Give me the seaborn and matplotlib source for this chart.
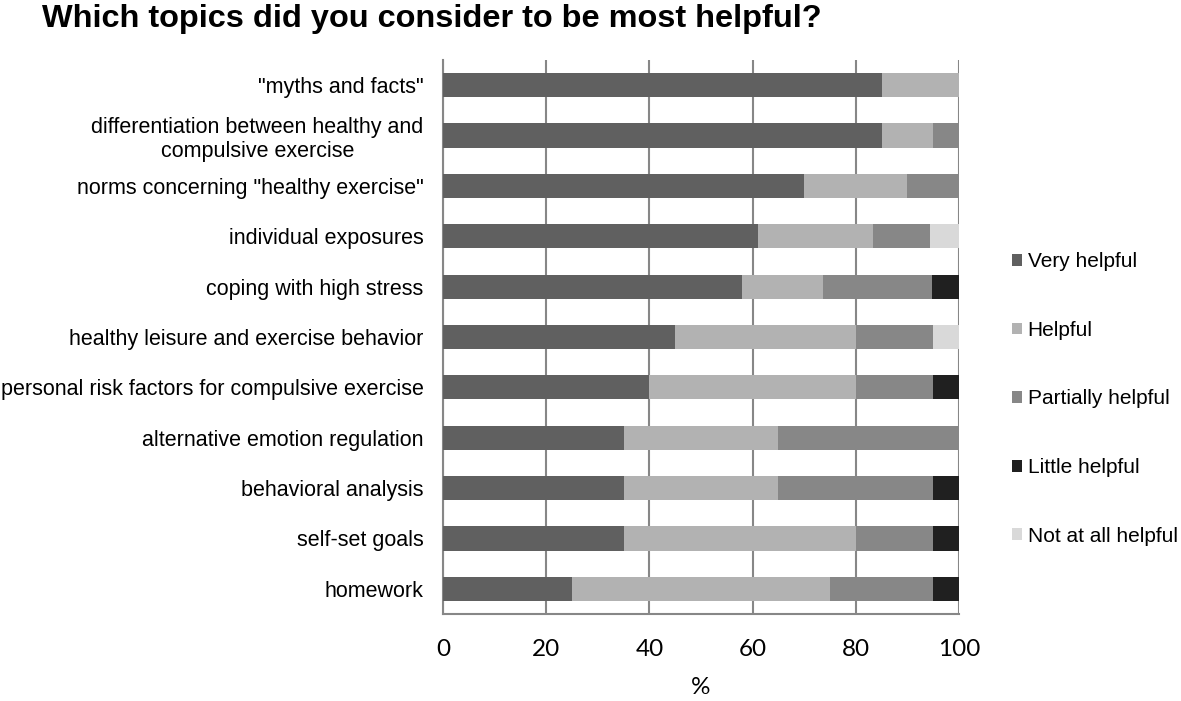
import matplotlib
matplotlib.use("Agg")
import matplotlib.pyplot as plt
import seaborn as sns
import numpy as np
import pandas as pd
from matplotlib.patches import Patch

topics = [
    '"myths and facts"',
    "differentiation between healthy and\ncompulsive exercise",
    'norms concerning "healthy exercise"',
    "individual exposures",
    "coping with high stress",
    "healthy leisure and exercise behavior",
    "personal risk factors for compulsive exercise",
    "alternative emotion regulation",
    "behavioral analysis",
    "self-set goals",
    "homework",
]
series = ["Very helpful", "Helpful", "Partially helpful", "Little helpful", "Not at all helpful"]
very_helpful = [85, 85, 70, 61.1, 57.9, 45, 40, 35, 35, 35, 25]
helpful = [15, 10, 20, 22.2, 15.8, 35, 40, 30, 30, 45, 50]
partially_helpful = [0, 5, 10, 11.1, 21.1, 15, 15, 35, 30, 15, 20]
little_helpful = [0, 0, 0, 0, 5.3, 0, 5, 0, 5, 5, 5]
not_at_all_helpful = [0, 0, 0, 5.6, 0, 5, 0, 0, 0, 0, 0]
colors = ["#606060", "#b2b2b2", "#878787", "#202020", "#d9d9d9"]
x_ticks = [0, 20, 40, 60, 80, 100]

sns.set_style("white")
plt.rcParams["font.family"] = ["Liberation Sans", "DejaVu Sans"]
plt.rcParams["text.color"] = "black"
plt.rcParams["xtick.color"] = "black"
plt.rcParams["ytick.color"] = "black"
plt.rcParams["axes.labelcolor"] = "black"

df = pd.DataFrame({"topic": topics, "Very helpful": very_helpful, "Helpful": helpful,
                   "Partially helpful": partially_helpful, "Little helpful": little_helpful,
                   "Not at all helpful": not_at_all_helpful})
cum = df[series].cumsum(axis=1)

fig = plt.figure(figsize=(11.81, 7.01), dpi=100)
ax = fig.add_axes([443/1181, 1-614/701, (959-443)/1181, (614-60)/701])

for i in range(len(series) - 1, -1, -1):
    sns.barplot(x=cum[series[i]], y=df["topic"], color=colors[i], orient="h",
                width=0.48, ax=ax, saturation=1, linewidth=0, zorder=3)

ax.set_xlim(0, 100)
ax.set_ylim(len(topics) - 0.5, -0.5)
ax.set_xticks(x_ticks)
ax.set_xticklabels([str(t) for t in x_ticks], fontsize=17.5, family="Lato")
ax.set_xlabel("%", fontsize=17.5, family="Lato", labelpad=12)
ax.set_ylabel("")
ax.tick_params(axis="y", which="major", length=0, labelsize=15.5, pad=14, labelcolor="black")
ax.set_yticks(np.arange(-0.5, len(topics), 1.0), minor=True)
ax.tick_params(axis="y", which="minor", length=5, width=1.5, color="#878787", direction="out")
ax.tick_params(axis="x", which="major", length=6, width=1.5, color="#878787", direction="out",
               pad=12, labelcolor="black")
for lbl in ax.get_yticklabels():
    lbl.set_multialignment("center")

ax.grid(axis="x", color="#878787", linewidth=1.5, zorder=0)
ax.set_axisbelow(True)
for s in ["top", "right"]:
    ax.spines[s].set_visible(False)
for s in ["left", "bottom"]:
    ax.spines[s].set_color("#878787")
    ax.spines[s].set_linewidth(1.5)

handles = [Patch(facecolor=c, edgecolor="none") for c in colors]
fig.legend(handles, series, loc="center left", bbox_to_anchor=(1012/1181, 1-399/701),
           frameon=False, fontsize=15, handlelength=0.5, handleheight=0.5,
           handletextpad=0.25, labelspacing=2.38, borderaxespad=0, borderpad=0)

fig.text(42/1181, 1-19/701, "Which topics did you consider to be most helpful?",
         fontsize=23.4, fontweight="bold", va="center", ha="left")

fig.savefig("out.png", dpi=100)
